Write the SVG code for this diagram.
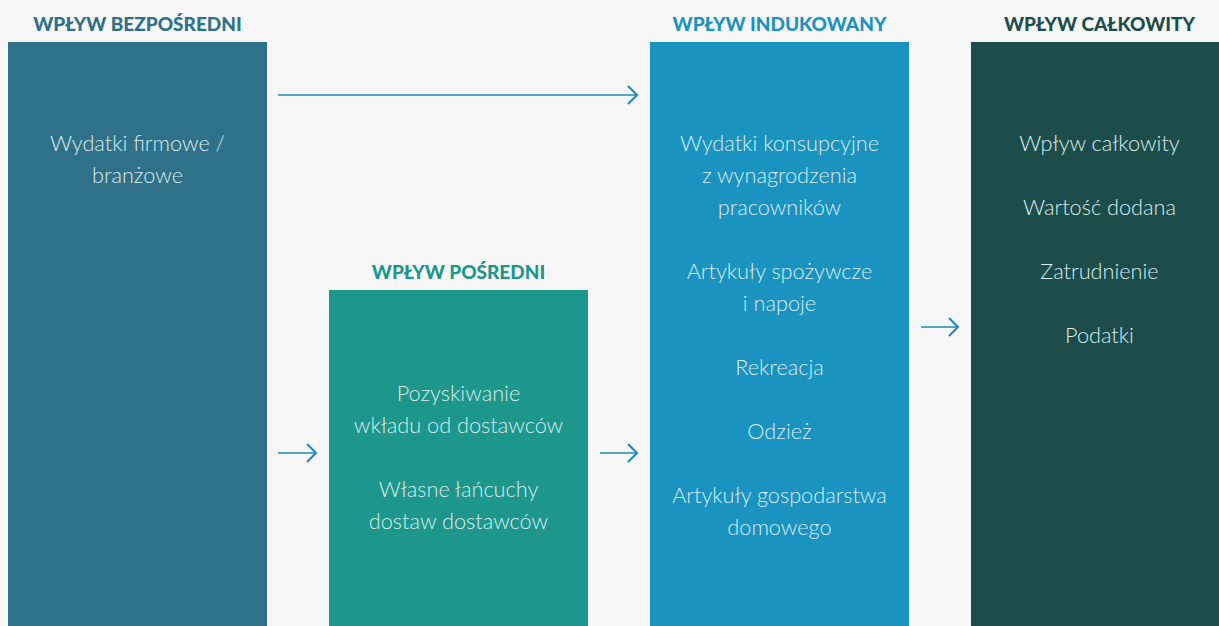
<svg xmlns="http://www.w3.org/2000/svg" width="1219" height="626" viewBox="0 0 1219 626">
<defs>
<marker id="ah" viewBox="0 0 12 20" refX="11" refY="10" markerWidth="12" markerHeight="20" markerUnits="userSpaceOnUse" orient="auto">
<path d="M2,1 L11,10 L2,19" fill="none" stroke="#2089b5" stroke-width="2"/>
</marker>
<style>
.t{font-family:Lato,"Open Sans",sans-serif;font-weight:900;font-size:19px;text-anchor:middle}
.b{font-family:Lato,"Open Sans",sans-serif;font-weight:300;font-size:21.7px;fill:#d9ecef;text-anchor:middle}
.c{stroke:#2089b5;stroke-width:1.6;fill:none;marker-end:url(#ah)}
</style>
</defs>
<rect width="1219" height="626" fill="#f6f6f6"/>
<g id="direct">
<text class="t" x="137.5" y="31" fill="#2e7188">WPŁYW BEZPOŚREDNI</text>
<rect x="8" y="42" width="259" height="584" fill="#2e7188"/>
<text class="b" x="137.5" y="151">Wydatki firmowe /</text>
<text class="b" x="137.5" y="183">branżowe</text>
</g>
<g id="indirect">
<text class="t" x="458.5" y="279" fill="#1d968b">WPŁYW POŚREDNI</text>
<rect x="329" y="290" width="259" height="336" fill="#1d968b"/>
<text class="b" x="458.5" y="401">Pozyskiwanie</text>
<text class="b" x="458.5" y="433">wkładu od dostawców</text>
<text class="b" x="458.5" y="497">Własne łańcuchy</text>
<text class="b" x="458.5" y="529">dostaw dostawców</text>
</g>
<g id="induced">
<text class="t" x="779.5" y="31" fill="#1a93c0">WPŁYW INDUKOWANY</text>
<rect x="650" y="42" width="259" height="584" fill="#1a93c0"/>
<text class="b" x="779.5" y="151">Wydatki konsupcyjne</text>
<text class="b" x="779.5" y="183">z wynagrodzenia</text>
<text class="b" x="779.5" y="215">pracowników</text>
<text class="b" x="779.5" y="279">Artykuły spożywcze</text>
<text class="b" x="779.5" y="311">i napoje</text>
<text class="b" x="779.5" y="375">Rekreacja</text>
<text class="b" x="779.5" y="439">Odzież</text>
<text class="b" x="779.5" y="503">Artykuły gospodarstwa</text>
<text class="b" x="779.5" y="535">domowego</text>
</g>
<g id="total">
<text class="t" x="1099.5" y="31" fill="#1d4d4b">WPŁYW CAŁKOWITY</text>
<rect x="971" y="42" width="248" height="584" fill="#1d4d4b"/>
<text class="b" x="1099.5" y="151">Wpływ całkowity</text>
<text class="b" x="1099.5" y="215">Wartość dodana</text>
<text class="b" x="1099.5" y="279">Zatrudnienie</text>
<text class="b" x="1099.5" y="343">Podatki</text>
</g>
<g id="connectors">
<line class="c" x1="278" y1="95" x2="637" y2="95"/>
<line class="c" x1="278" y1="453" x2="316" y2="453"/>
<line class="c" x1="600" y1="453" x2="637" y2="453"/>
<line class="c" x1="921" y1="327" x2="958" y2="327"/>
</g>
</svg>
